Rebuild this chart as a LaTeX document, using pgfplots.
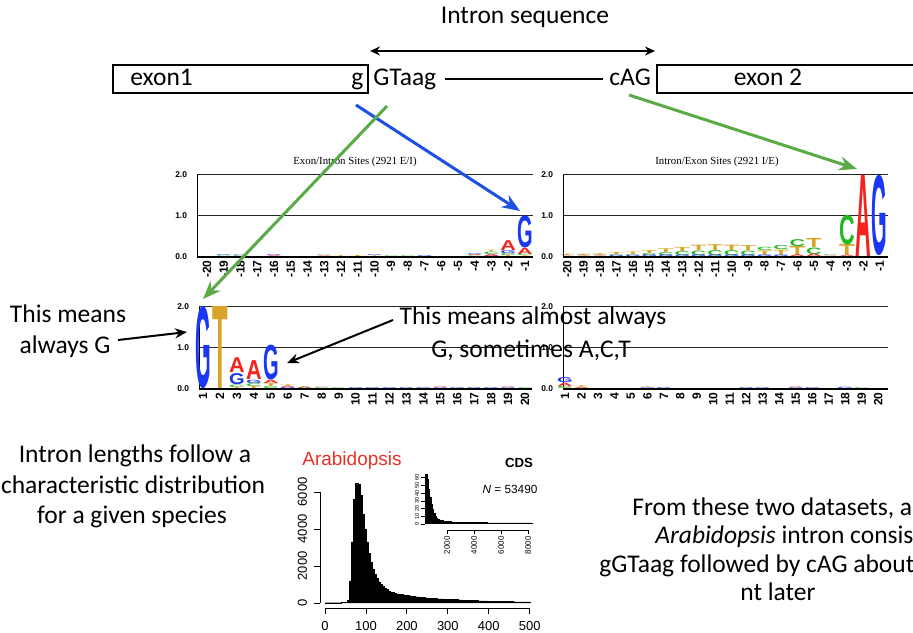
\documentclass[border=0pt]{standalone}
\usepackage{fontspec}
\setmainfont{Carlito}
\newfontfamily\hfont{Liberation Sans}
\newfontfamily\tfont{Liberation Serif}
\usepackage{graphicx}
\usepackage{pgfplots}
\pgfplotsset{compat=1.18}
\usetikzlibrary{arrows.meta}

\definecolor{lgblue}{RGB}{25,55,245}
\definecolor{lgred}{RGB}{245,35,30}
\definecolor{lggold}{RGB}{215,165,40}
\definecolor{lggreen}{RGB}{35,185,35}
\definecolor{arrblue}{RGB}{30,80,230}
\definecolor{arrgreen}{RGB}{90,170,70}
\definecolor{arared}{RGB}{232,50,40}

\pgfplotsset{
  logo/.style={draw=none, mark=none,
    visualization depends on={\thisrow{h}\as\hh},
    nodes near coords={\pgfmathsetmacro\hpt{\hh*20.5}\resizebox*{7.8pt}{\hpt pt}{\hfont\bfseries #1}},
    every node near coord/.append style={anchor=south, inner sep=0pt, outer sep=0pt}},
  lA/.style={logo=A, every node near coord/.append style={text=lgred}},
  lC/.style={logo=C, every node near coord/.append style={text=lggreen}},
  lG/.style={logo=G, every node near coord/.append style={text=lgblue}},
  lT/.style={logo=T, every node near coord/.append style={text=lggold}},
  logoax/.style={scale only axis, height=41pt, ymin=0, ymax=2, clip=false,
    anchor=south west,
    axis x line*=bottom, axis y line*=left,
    x axis line style={line width=1.1pt, -}, y axis line style={line width=0.4pt, -},
    ytick={0,1,2}, yticklabels={0.0,1.0,2.0},
    ymajorgrids, grid style={black!85, line width=0.5pt},
    major tick length=0pt,
    /pgf/number format/assume math mode=true,
    yticklabel style={font=\hfont\bfseries\fontsize{4.2}{5}\selectfont, xshift=-1.5pt},
    xticklabel style={rotate=90, anchor=east, font=\hfont\bfseries\fontsize{6}{7}\selectfont, inner sep=1.5pt}},
}

\begin{document}
\begin{tikzpicture}[x=0.5pt, y=0.5pt,
  txt/.style={font=\fontsize{12.75}{15.3}\selectfont, inner sep=0pt}]
\clip (0,0) rectangle (913,632);
\fill[white] (0,0) rectangle (913,632);

% gene model
\node[txt, anchor=base] at (525,632-24) {Intron sequence};
\draw[line width=1pt, {Stealth[length=5pt,width=4.5pt]}-{Stealth[length=5pt,width=4.5pt]}] (370,632-51) -- (655,632-51);
\draw[line width=1.2pt] (113,632-65) rectangle (368,632-93);
\node[txt, anchor=base west] at (130,632-86) {exon1};
\node[txt, anchor=base west] at (351,632-86) {g};
\node[txt, anchor=base west] at (373,632-86) {GTaag};
\draw[line width=1pt] (445,632-79) -- (603,632-79);
\node[txt, anchor=base west] at (609,632-86) {cAG};
\draw[line width=1.2pt] (657,632-65) rectangle (940,632-93);
\node[txt, anchor=base] at (768,632-86) {exon 2};

% exon/intron logo
\begin{axis}[logoax, at={(98.5pt,187.5pt)}, width=168pt, xmin=-20.6, xmax=-0.52, xtick={-20,...,-1}]
\addplot[lG] table {x y h
-19 0.015 0.02
-18 0.02 0.015
-16 0.02 0.02
-10 0.015 0.02
-7 0.0 0.02
-4 0.04 0.02
-3 0.0 0.02
-2 0.08 0.07
-1 0.22 0.78
};
\addplot[lA] table {x y h
-16 0.0 0.02
-13 0.0 0.015
-4 0.015 0.025
-3 0.02 0.05
-2 0.15 0.24
-1 0.06 0.15
};
\addplot[lC] table {x y h
-19 0.0 0.015
-18 0.0 0.02
-13 0.015 0.015
-9 0.0 0.015
-8 0.0 0.015
-4 0.0 0.015
-3 0.07 0.06
-2 0.03 0.05
-1 0.02 0.04
};
\addplot[lT] table {x y h
-12 0.0 0.02
-11 0.0 0.025
-10 0.0 0.015
-3 0.13 0.03
-2 0.0 0.03
-1 0.0 0.02
};
\end{axis}

% intron/exon logo
\begin{axis}[logoax, at={(281.5pt,187.5pt)}, width=162.5pt, xmin=-20.25, xmax=-0.5, xtick={-20,...,-1}]
\addplot[lT] table {x y h
-20 0.02 0.03
-19 0.03 0.03
-18 0.03 0.04
-17 0.05 0.05
-16 0.05 0.06
-15 0.09 0.07
-14 0.11 0.09
-13 0.14 0.1
-12 0.15 0.13
-11 0.16 0.14
-10 0.16 0.13
-9 0.15 0.12
-8 0.04 0.11
-7 0.04 0.13
-6 0.04 0.22
-5 0.22 0.22
-3 0.03 0.27
};
\addplot[lC] table {x y h
-20 0.01 0.01
-19 0.015 0.015
-18 0.015 0.015
-17 0.03 0.02
-16 0.03 0.02
-15 0.04 0.05
-14 0.04 0.07
-13 0.04 0.1
-12 0.04 0.11
-11 0.04 0.12
-10 0.04 0.12
-9 0.04 0.11
-8 0.15 0.08
-7 0.17 0.1
-6 0.26 0.17
-5 0.06 0.16
-4 0.01 0.02
-3 0.3 0.72
};
\addplot[lA] table {x y h
-20 0.0 0.01
-19 0.0 0.015
-18 0.0 0.015
-6 0.0 0.04
-5 0.0 0.06
-4 0.0 0.01
-3 0.0 0.03
-2 0.02 1.98
};
\addplot[lG] table {x y h
-17 0.0 0.03
-16 0.0 0.03
-15 0.0 0.04
-14 0.0 0.04
-13 0.0 0.04
-12 0.0 0.04
-11 0.0 0.04
-10 0.0 0.04
-9 0.0 0.04
-8 0.0 0.04
-7 0.0 0.04
-1 0.04 1.96
};
\end{axis}

% donor logo
\begin{axis}[logoax, at={(99.5pt,121.5pt)}, width=166.5pt, xmin=0.76, xmax=20.41, xtick={1,...,20}]
\addplot[lG] table {x y h
1 0.0 2.0
3 0.1 0.27
4 0.13 0.08
5 0.22 0.85
6 0.0 0.03
10 0.0 0.02
11 0.0 0.02
12 0.0 0.02
13 0.0 0.02
14 0.0 0.02
15 0.0 0.02
16 0.0 0.02
17 0.0 0.02
18 0.0 0.02
19 0.0 0.02
};
\addplot[lA] table {x y h
3 0.4 0.36
4 0.22 0.46
5 0.14 0.08
6 0.03 0.03
7 0.02 0.04
8 0.02 0.01
15 0.02 0.015
19 0.02 0.015
};
\addplot[lC] table {x y h
3 0.04 0.06
4 0.06 0.07
5 0.02 0.05
7 0.0 0.02
8 0.0 0.02
9 0.0 0.02
20 0.0 0.02
};
\addplot[lT] table {x y h
2 0.0 2.0
3 0.01 0.03
4 0.01 0.05
5 0.07 0.07
6 0.06 0.04
};
\end{axis}

% acceptor side logo
\begin{axis}[logoax, at={(281.5pt,121.5pt)}, width=162.5pt, xmin=0.88, xmax=20.6, xtick={1,...,20}]
\addplot[lG] table {x y h
1 0.16 0.12
6 0.0 0.02
7 0.0 0.02
12 0.0 0.02
13 0.0 0.02
15 0.0 0.02
16 0.0 0.02
18 0.0 0.03
};
\addplot[lA] table {x y h
1 0.07 0.08
2 0.0 0.03
15 0.02 0.015
};
\addplot[lC] table {x y h
1 0.02 0.05
19 0.0 0.02
};
\addplot[lT] table {x y h
1 0.0 0.02
2 0.03 0.04
6 0.02 0.02
};
\end{axis}

\node[font=\tfont\fontsize{5.4}{6}\selectfont, anchor=base] at (355,632-165) {Exon/Intron Sites (2921 E/I)};
\node[font=\tfont\fontsize{5.4}{6}\selectfont, anchor=base] at (717,632-165) {Intron/Exon Sites (2921 I/E)};

% intron length histogram
\begin{axis}[at={(160pt,12pt)}, anchor=south west, scale only axis,
  width=109pt, height=64.5pt, xmin=-12, xmax=520, ymin=-270, ymax=6700,
  axis x line*=bottom, axis y line*=left, axis line style={draw=none},
  xtick={0,100,...,500}, ytick={0,2000,4000,6000}, scaled ticks=false,
  tick align=outside, major tick length=3pt, tick style={black, line width=0.4pt},
  /pgf/number format/assume math mode=true, /pgf/number format/1000 sep={},
  xticklabel style={font=\hfont\fontsize{6.5}{7}\selectfont},
  yticklabel style={rotate=90, anchor=south, font=\hfont\fontsize{6.5}{7}\selectfont},
  clip=false]
\addplot[const plot, fill=black, draw=black, line width=0.2pt] table {x y
0 0
0 15
5 15
10 15
15 15
20 15
25 15
30 15
35 15
40 20
45 20
50 30
55 150
60 1200
65 3300
70 5600
75 6450
80 6400
85 5800
90 4800
95 4000
100 3300
105 2700
110 2200
115 1850
120 1550
125 1350
130 1150
135 1000
140 900
145 800
150 720
155 650
160 600
165 560
170 520
175 500
180 470
185 450
190 430
195 420
200 400
205 390
210 370
215 360
220 340
225 330
230 310
235 300
240 290
245 280
250 270
255 260
260 250
265 245
270 240
275 230
280 225
285 220
290 215
295 210
300 205
305 200
310 190
315 185
320 180
325 170
330 165
335 160
340 155
345 150
350 145
355 140
360 135
365 130
370 125
375 120
380 115
385 112
390 110
395 105
400 100
405 98
410 95
415 92
420 90
425 88
430 85
435 82
440 80
445 78
450 75
455 72
460 70
465 68
470 65
475 62
480 60
485 58
490 56
495 55
500 0
};
\draw[line width=0.4pt] (axis cs:0,-270) -- (axis cs:500,-270);
\draw[line width=0.4pt] (axis cs:-12,0) -- (axis cs:-12,6000);
\end{axis}

% inset: long introns
\begin{axis}[at={(212.5pt,51pt)}, anchor=south west, scale only axis,
  width=55pt, height=30pt, xmin=370, xmax=8520, ymin=-7.8, ymax=70,
  axis x line*=bottom, axis y line*=left, axis line style={draw=none},
  xtick={2000,4000,6000,8000}, ytick={0,10,...,60}, scaled ticks=false,
  tick align=outside, major tick length=2pt, tick style={black, line width=0.3pt},
  /pgf/number format/assume math mode=true, /pgf/number format/1000 sep={},
  xticklabel style={rotate=90, anchor=east, font=\hfont\fontsize{4}{4}\selectfont, inner sep=1pt},
  yticklabel style={rotate=90, anchor=south, font=\hfont\fontsize{2.8}{3}\selectfont, inner sep=0.8pt},
  clip=false]
\addplot[const plot, fill=black, draw=black, line width=0.2pt] table {x y
400 0
400 65
500 58
600 45
700 35
800 26
900 19
1000 14
1100 10
1200 8
1300 6.5
1400 5.5
1500 4.5
1700 3.5
2000 3
2300 2.5
2700 2.2
3200 2
4000 1.8
5000 1.6
6000 1.5
7000 1.4
8000 1.3
8300 0
};
\draw[line width=0.3pt] (axis cs:2000,-7.8) -- (axis cs:8000,-7.8);
\draw[line width=0.3pt] (axis cs:370,0) -- (axis cs:370,60);
\end{axis}

\node[font=\hfont\fontsize{9.5}{10}\selectfont, text=arared, anchor=base] at (352,632-465) {Arabidopsis};
\node[font=\hfont\bfseries\fontsize{6.6}{7}\selectfont, anchor=base] at (519,632-467) {CDS};
\node[font=\hfont\fontsize{5.9}{6}\selectfont, anchor=base] at (510,632-493) {\textit{N} = 53490};

% slide text
\node[txt, anchor=base] at (68,632-322) {This means};
\node[txt, anchor=base] at (65,632-353) {always G};
\node[txt, anchor=base] at (533,632-325) {This means almost always};
\node[txt, anchor=base] at (531,632-357) {G, sometimes A,C,T};
\node[txt, anchor=base] at (135,632-462) {Intron lengths follow a};
\node[txt, anchor=base] at (133,632-493) {characteristic distribution};
\node[txt, anchor=base] at (132,632-523) {for a given species};
\node[txt, anchor=base west] at (632,632-515) {From these two datasets, a typical};
\node[txt, anchor=base west] at (655,632-543) {\textit{Arabidopsis} intron consists of};
\node[txt, anchor=base west] at (599,632-572) {gGTaag followed by cAG about 100};
\node[txt, anchor=base west] at (740,632-600) {nt later};

% arrows
\draw[line width=1.5pt, arrblue, -{Stealth[length=9pt, width=7pt]}] (356,632-105) -- (520,632-211);
\draw[line width=1.5pt, arrgreen, -{Stealth[length=9pt, width=7pt]}] (387,632-106) -- (203,632-299);
\draw[line width=1.5pt, arrgreen, -{Stealth[length=9pt, width=7pt]}] (629,632-95) -- (857,632-169);
\draw[line width=1pt, -{Stealth[length=6pt, width=5pt]}] (118,632-340) -- (187,632-332);
\draw[line width=1pt, -{Stealth[length=6pt, width=5pt]}] (393,632-320) -- (287,632-363);
\end{tikzpicture}
\end{document}
